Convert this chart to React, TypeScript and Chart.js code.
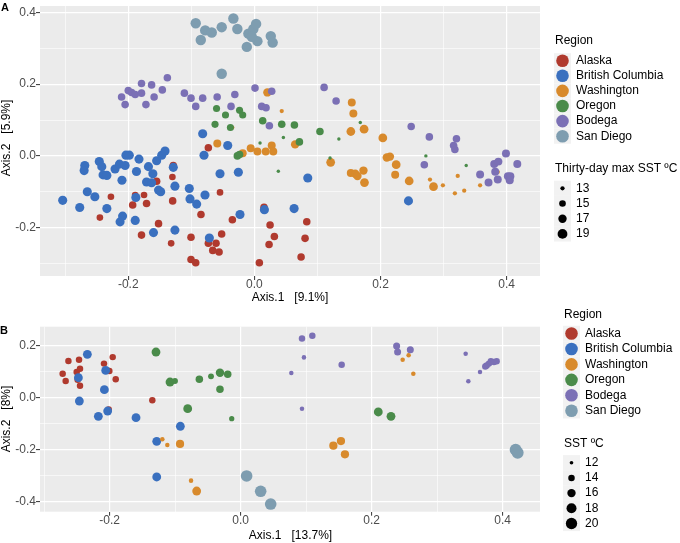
import React, { useEffect, useRef } from 'react';
import { Chart, registerables } from 'chart.js';
Chart.register(...registerables);

const FONT = '"Liberation Sans", Arial, Helvetica, sans-serif';
Chart.defaults.font.family = FONT;

const REGIONS = ['Alaska', 'British Columbia', 'Washington', 'Oregon', 'Bodega', 'San Diego'];
const REGION_COLORS = ['#B03A2E', '#3A70BF', '#D88A2C', '#4A8B4A', '#7B70B5', '#7E9DB0'];

// ---------- Panel A data: [Axis.1, Axis.2, thirty-day max SST] ----------
const A_ALASKA = [
  [-0.245, -0.172, 15], [-0.2275, -0.114, 15], [-0.193, -0.137, 16], [-0.189, -0.109, 15],
  [-0.179, -0.221, 16], [-0.175, -0.109, 15], [-0.171, -0.133, 16], [-0.155, -0.071, 16],
  [-0.152, -0.189, 16], [-0.132, -0.244, 15], [-0.13, -0.059, 15], [-0.1286, -0.027, 16],
  [-0.1296, -0.1255, 16], [-0.1005, -0.227, 16], [-0.1005, -0.289, 16], [-0.093, -0.298, 16],
  [-0.0847, -0.1636, 16], [-0.073, 0.0227, 16], [-0.073, -0.2436, 16], [-0.066, -0.2636, 16],
  [-0.0608, -0.2436, 16], [-0.056, -0.268, 16], [-0.0545, -0.1018, 15], [-0.0519, -0.218, 16],
  [-0.0349, -0.178, 16], [0.0153, -0.1436, 16], [0.0249, -0.193, 16], [0.0317, -0.225, 16],
  [0.0233, -0.247, 16], [0.0079, -0.298, 16], [0.0741, -0.2818, 16], [0.0804, -0.23, 16],
  [0.0831, -0.1836, 16],
];
const A_BRITISH_COLUMBIA = [
  [-0.304, -0.124, 18], [-0.277, -0.144, 18], [-0.269, -0.027, 18], [-0.27, -0.041, 18],
  [-0.265, -0.1, 18], [-0.253, -0.114, 18], [-0.246, -0.0155, 18], [-0.242, -0.03, 18],
  [-0.24, -0.053, 18], [-0.234, -0.0545, 18], [-0.234, -0.147, 18], [-0.221, -0.0365, 18],
  [-0.214, -0.023, 18], [-0.21, -0.068, 18], [-0.2037, 0.002, 18], [-0.1984, 0.002, 18],
  [-0.205, -0.027, 18], [-0.213, -0.184, 18], [-0.209, -0.168, 18], [-0.189, -0.18, 18],
  [-0.188, -0.116, 18], [-0.187, -0.0436, 18], [-0.183, -0.009, 18], [-0.168, -0.03, 18],
  [-0.171, -0.073, 18], [-0.163, -0.075, 18], [-0.161, -0.05, 18], [-0.155, -0.0136, 18],
  [-0.152, -0.0955, 18], [-0.1486, -0.1, 18], [-0.147, 0.0016, 18], [-0.1417, 0.0136, 18],
  [-0.16, -0.214, 18], [-0.1286, -0.032, 18], [-0.126, -0.0845, 18], [-0.126, -0.207, 18],
  [-0.1032, -0.0909, 18], [-0.1021, -0.12, 18], [-0.0915, -0.1345, 18], [-0.082, 0.0618, 18],
  [-0.0799, 0.0018, 18], [-0.0783, -0.109, 18], [-0.0714, -0.229, 18], [-0.0545, -0.05, 18],
  [-0.0423, 0.029, 18], [-0.0254, -0.0455, 18], [-0.0228, -0.1636, 18], [0.0847, -0.0618, 18],
  [0.0159, -0.15, 18], [0.063, -0.147, 18], [0.2444, -0.1255, 18],
];
const A_WASHINGTON = [
  [-0.0588, 0.0345, 16.5], [-0.035, 0.079, 13], [0.0206, 0.177, 17], [0.0434, 0.125, 13],
  [-0.0185, 0.0073, 16.5], [-0.0058, 0.021, 16.5], [0.0048, 0.012, 16.5], [0.018, 0.012, 16.5],
  [0.0275, 0.029, 16.5], [0.03, 0.012, 16.5], [0.0646, 0.032, 17], [0.121, -0.018, 17.5],
  [0.1545, 0.149, 16.5], [0.157, 0.118, 16.5], [0.153, 0.068, 17.5], [0.174, 0.0745, 17.5],
  [0.2037, 0.05, 17.5], [0.21, -0.0045, 17], [0.215, -0.002, 17], [0.2249, -0.0245, 17.5],
  [0.2233, -0.0527, 16.5], [0.1529, -0.048, 16.5], [0.16, -0.05, 17], [0.1635, -0.056, 17],
  [0.173, -0.041, 17], [0.1746, -0.0745, 17.5], [0.2455, -0.07, 17.5], [0.2841, -0.086, 17.5],
  [0.2785, -0.066, 13], [0.299, -0.082, 13], [0.318, -0.1045, 13], [0.3225, -0.056, 13],
  [0.272, -0.0245, 13], [0.3328, -0.097, 13], [0.358, -0.082, 13], [0.386, -0.045, 13],
  [0.3873, -0.065, 13],
];
const A_OREGON = [
  [-0.06, 0.132, 15.5], [-0.0458, 0.114, 15.5], [-0.0624, 0.088, 15.5], [-0.038, 0.079, 15.5],
  [-0.0235, 0.127, 15.5], [-0.0185, 0.114, 15.5], [-0.027, 0.0, 16], [-0.0235, 0.004, 16],
  [0.0132, 0.098, 16], [0.0434, 0.088, 16], [0.0635, 0.086, 16], [0.046, 0.051, 12.5],
  [0.0714, 0.039, 16], [0.009, 0.036, 12.5], [0.038, -0.043, 12.5], [0.104, 0.068, 16],
  [0.12, -0.006, 12.5], [0.134, 0.047, 12.5], [0.168, 0.093, 12.5], [0.272, 0.0, 12.5],
  [0.336, -0.027, 12.5],
];
const A_BODEGA = [
  [-0.2106, 0.164, 16], [-0.205, 0.143, 16], [-0.2, 0.182, 16], [-0.1947, 0.177, 16],
  [-0.189, 0.171, 16], [-0.179, 0.202, 16], [-0.179, 0.175, 16], [-0.172, 0.143, 16],
  [-0.163, 0.198, 16], [-0.159, 0.164, 16], [-0.146, 0.184, 16], [-0.138, 0.218, 16],
  [-0.111, 0.175, 16], [-0.1005, 0.161, 16], [-0.093, 0.138, 16], [-0.082, 0.161, 16],
  [-0.059, 0.164, 16], [-0.037, 0.138, 16], [-0.031, 0.171, 16], [0.001, 0.189, 16],
  [0.0275, 0.18, 16], [0.0116, 0.138, 16], [0.0185, 0.134, 16], [0.0238, 0.084, 16],
  [0.1106, 0.191, 16], [0.1296, 0.153, 16], [0.2487, 0.082, 16], [0.2775, 0.053, 16],
  [0.2695, -0.0245, 16], [0.316, 0.029, 16], [0.3205, 0.048, 16], [0.318, 0.018, 16],
  [0.358, -0.052, 16.5], [0.3714, -0.0745, 16.5], [0.3804, -0.0227, 16.5], [0.387, -0.016, 16.5],
  [0.382, -0.044, 16.5], [0.386, -0.066, 16.5], [0.399, 0.0064, 16.5], [0.4021, -0.057, 16.5],
  [0.406, -0.057, 16.5], [0.405, -0.068, 16.5], [0.417, -0.0227, 16.5],
];
const A_SAN_DIEGO = [
  [-0.093, 0.37, 20], [-0.085, 0.323, 20], [-0.078, 0.35, 20], [-0.0676, 0.344, 20],
  [-0.0518, 0.359, 20], [-0.0333, 0.383, 20], [-0.027, 0.354, 20], [-0.012, 0.304, 20],
  [-0.0095, 0.341, 20], [-0.0016, 0.354, 20], [0.0027, 0.368, 20], [0.0048, 0.32, 20],
  [-0.004, 0.332, 20], [0.026, 0.334, 20], [0.029, 0.316, 20], [-0.0518, 0.229, 20],
];

// ---------- Panel B data: [Axis.1, Axis.2, SST] ----------
const B_ALASKA = [
  [-0.2718, 0.0923, 14], [-0.2672, 0.064, 14], [-0.263, 0.141, 14], [-0.2504, 0.0987, 14],
  [-0.2468, 0.146, 14], [-0.2453, 0.1115, 14], [-0.2489, 0.069, 14], [-0.2453, 0.046, 14],
  [-0.2087, 0.131, 14], [-0.2005, 0.1026, 14], [-0.1954, 0.156, 14], [-0.1908, 0.0705, 14],
  [-0.1349, -0.0103, 14], [-0.2015, -0.045, 14],
];
const B_BRITISH_COLUMBIA = [
  [-0.2341, 0.1667, 16.5], [-0.2478, 0.077, 16.5], [-0.2463, -0.0128, 16.5], [-0.2061, 0.105, 16.5],
  [-0.2081, 0.0308, 16.5], [-0.2173, -0.0718, 16.5], [-0.2031, -0.0513, 16.5], [-0.1598, -0.0769, 16.5],
  [-0.1282, -0.168, 16.5], [-0.1282, -0.305, 16.5], [-0.0921, -0.11, 16.5],
];
const B_WASHINGTON = [
  [-0.1196, -0.16, 12.5], [-0.112, -0.182, 12.5], [-0.0926, -0.178, 15.8], [-0.0758, -0.319, 12.5],
  [-0.0672, -0.359, 16.5], [0.1415, -0.1846, 15.8], [0.1531, -0.1667, 15.8], [0.1592, -0.218, 15.8],
  [0.2473, 0.146, 12.5], [0.2564, 0.163, 12.5], [0.2636, 0.0923, 12.5],
];
const B_OREGON = [
  [-0.1293, 0.1756, 16.5], [-0.1079, 0.0603, 16.5], [-0.1003, 0.064, 13.5], [-0.0631, 0.0705, 15],
  [-0.0453, 0.082, 13.5], [-0.0316, 0.096, 16], [-0.0316, 0.032, 15], [-0.0198, 0.0897, 15],
  [-0.0809, -0.0423, 16.5], [-0.0137, -0.0808, 13], [0.2101, -0.055, 16.5], [0.2295, -0.0718, 16.5],
];
const B_BODEGA = [
  [0.0936, 0.228, 14], [0.1094, 0.238, 14], [0.0966, 0.155, 12.5], [0.0773, 0.095, 12.5],
  [0.0936, -0.0423, 12.5], [0.1542, 0.127, 14], [0.2381, 0.199, 14.5], [0.2396, 0.176, 14.5],
  [0.259, 0.1846, 14.5], [0.3435, 0.169, 12.5], [0.3476, 0.063, 12.5], [0.3654, 0.0987, 12.5],
  [0.3755, 0.124, 14], [0.379, 0.131, 14], [0.382, 0.14, 14], [0.3867, 0.137, 14],
  [0.3908, 0.14, 14], [0.3735, 0.12, 14],
];
const B_SAN_DIEGO = [
  [0.0091, -0.301, 20.5], [0.0305, -0.36, 20.5], [0.0458, -0.409, 20.5],
  [0.4198, -0.2, 21], [0.4229, -0.2115, 21],
];

// ---------- legends & ticks ----------
const A_SIZE_LEGEND = [13, 15, 17, 19];
const B_SIZE_LEGEND = [12, 14, 16, 18, 20];
const A_SIZE_TITLE = 'Thirty-day max SST \u00baC';
const B_SIZE_TITLE = 'SST \u00baC';

const A_X_MAJOR = [-0.2, 0, 0.2, 0.4];
const A_X_MINOR = [-0.3, -0.1, 0.1, 0.3];
const A_Y_MAJOR = [-0.2, 0, 0.2, 0.4];
const A_Y_MINOR = [-0.3, -0.1, 0.1, 0.3];
const B_X_MAJOR = [-0.2, 0, 0.2, 0.4];
const B_X_MINOR = [-0.3, -0.1, 0.1, 0.3];
const B_Y_MAJOR = [-0.4, -0.2, 0, 0.2];
const B_Y_MINOR = [-0.3, -0.1, 0.1];

const A_X_TITLE = 'Axis.1   [9.1%]';
const A_Y_TITLE = 'Axis.2   [5.9%]';
const B_X_TITLE = 'Axis.1   [13.7%]';
const B_Y_TITLE = 'Axis.2   [8%]';

const sizeA = (v: number) => 1.07 * Math.sqrt(Math.max(2.2, 4 + 2.83 * (v - 13)));
const sizeB = (v: number) => 1.07 * Math.sqrt(Math.max(2.2, 2.9 + 3.14 * (v - 12)));

const fmt = (v: number) => (Math.abs(v) < 1e-9 ? '0.0' : v.toFixed(1));

function axis(min: number, max: number, major: number[], minor: number[], isX: boolean, fitSize: number) {
  const has = (arr: number[], v: number) => arr.some((m) => Math.abs(m - v) < 1e-9);
  return {
    type: 'linear',
    min,
    max,
    afterBuildTicks: (s: any) => {
      const vals = [...major, ...minor].sort((a, b) => a - b);
      const t = vals.map((v) => ({ value: v }));
      if (!isX) t.push({ value: max });
      s.ticks = t;
    },
    afterFit: (s: any) => {
      if (isX) s.height = fitSize;
      else s.width = fitSize;
    },
    ticks: {
      autoSkip: false,
      maxRotation: 0,
      minRotation: 0,
      padding: isX ? -1 : 0,
      color: '#4D4D4D',
      font: { size: 12, lineHeight: 1 },
      callback: (v: number) => {
        if (has(major, v)) return fmt(v);
        if (has(minor, v)) return '';
        return null;
      },
    },
    grid: {
      color: (c: any) => (c.tick && (has(major, c.tick.value) || has(minor, c.tick.value)) ? '#FFFFFF' : 'rgba(0,0,0,0)'),
      lineWidth: (c: any) => (c.tick && has(major, c.tick.value) ? 1.2 : c.tick && has(minor, c.tick.value) ? 0.6 : 0),
      drawTicks: true,
      tickLength: 4,
      tickWidth: 1,
      tickColor: (c: any) => (c.tick && has(major, c.tick.value) ? '#333333' : 'rgba(0,0,0,0)'),
    },
    border: { display: false },
  };
}

function makeDatasets(sets: number[][][], sizeFn: (v: number) => number) {
  return sets.map((arr, i) => ({
    label: REGIONS[i],
    data: arr.map(([x, y, s]) => ({ x, y, s })),
    pointRadius: (c: any) => sizeFn(c.raw.s),
    pointHoverRadius: (c: any) => sizeFn(c.raw.s),
    pointBackgroundColor: REGION_COLORS[i],
    pointBorderWidth: 0,
    pointBorderColor: 'rgba(0,0,0,0)',
    showLine: false,
    order: REGIONS.length - i,
  }));
}

function panelPlugin(p: any) {
  return {
    id: 'panel' + p.letter,
    beforeDraw(chart: any) {
      const { ctx, chartArea: a } = chart;
      ctx.save();
      ctx.fillStyle = '#EBEBEB';
      ctx.fillRect(a.left, a.top, a.right - a.left, a.bottom - a.top);
      ctx.restore();
    },
    afterDraw(chart: any) {
      const { ctx } = chart;
      ctx.save();
      ctx.fillStyle = '#000';
      ctx.font = 'bold 11px ' + FONT;
      ctx.textAlign = 'left';
      ctx.textBaseline = 'alphabetic';
      ctx.fillText(p.letter, p.letterX, p.letterY);
      ctx.font = '12px ' + FONT;
      ctx.textAlign = 'center';
      ctx.textBaseline = 'middle';
      ctx.fillText(p.xTitle, p.xTitleX, p.xTitleY);
      ctx.save();
      ctx.translate(p.yTitleX, p.yTitleY);
      ctx.rotate(-Math.PI / 2);
      ctx.fillText(p.yTitle, 0, 0);
      ctx.restore();
      const L = p.legend;
      ctx.textAlign = 'left';
      ctx.fillStyle = '#000';
      ctx.fillText('Region', L.titleX, L.titleY);
      REGIONS.forEach((r, i) => {
        const y = L.y0 + i * L.step;
        ctx.fillStyle = '#F2F2F2';
        ctx.fillRect(L.keyX, y - L.step / 2, L.keyW, L.step);
        ctx.fillStyle = REGION_COLORS[i];
        ctx.beginPath();
        ctx.arc(L.cx, y, 6.3, 0, Math.PI * 2);
        ctx.fill();
        ctx.fillStyle = '#000';
        ctx.fillText(r, L.tx, y);
      });
      ctx.fillText(p.sizeTitle, L.titleX, L.sTitleY);
      p.sizes.forEach((v: number, i: number) => {
        const y = L.sy0 + i * L.sstep;
        ctx.fillStyle = '#F2F2F2';
        ctx.fillRect(L.keyX, y - L.sstep / 2, L.keyW, L.sstep);
        ctx.fillStyle = '#000';
        ctx.beginPath();
        ctx.arc(L.cx, y, p.sizeFn(v), 0, Math.PI * 2);
        ctx.fill();
        ctx.fillText(String(v), L.tx, y);
      });
      ctx.restore();
    },
  };
}

function config(opts: any) {
  return {
    type: 'scatter',
    data: { datasets: makeDatasets(opts.sets, opts.sizeFn) },
    options: {
      responsive: false,
      animation: false,
      events: [],
      layout: { padding: { left: 0, right: 140, top: opts.padTop, bottom: 0 } },
      plugins: { legend: { display: false }, tooltip: { enabled: false } },
      scales: {
        x: axis(opts.xMin, opts.xMax, opts.xMajor, opts.xMinor, true, opts.xFit),
        y: axis(opts.yMin, opts.yMax, opts.yMajor, opts.yMinor, false, 40),
      },
    },
    plugins: [panelPlugin(opts.panel)],
  };
}

export default function App() {
  const refA = useRef<HTMLCanvasElement>(null);
  const refB = useRef<HTMLCanvasElement>(null);
  useEffect(() => {
    const chartA = new Chart(refA.current as any, config({
      sets: [A_ALASKA, A_BRITISH_COLUMBIA, A_WASHINGTON, A_OREGON, A_BODEGA, A_SAN_DIEGO],
      sizeFn: sizeA,
      padTop: 0,
      xMin: -0.34, xMax: 0.453, xMajor: A_X_MAJOR, xMinor: A_X_MINOR, xFit: 29,
      yMin: -0.335, yMax: 0.418, yMajor: A_Y_MAJOR, yMinor: A_Y_MINOR,
      panel: {
        letter: 'A', letterX: 1, letterY: 10.5,
        xTitle: A_X_TITLE, xTitleX: 290, xTitleY: 298,
        yTitle: A_Y_TITLE, yTitleX: 7, yTitleY: 138,
        sizeTitle: A_SIZE_TITLE, sizes: A_SIZE_LEGEND, sizeFn: sizeA,
        legend: { titleX: 555, titleY: 41, y0: 60.7, step: 15.1, keyX: 554, keyW: 17, cx: 562.5, tx: 576,
          sTitleY: 169, sy0: 188.3, sstep: 15.2 },
      },
    }) as any);
    const chartB = new Chart(refB.current as any, config({
      sets: [B_ALASKA, B_BRITISH_COLUMBIA, B_WASHINGTON, B_OREGON, B_BODEGA, B_SAN_DIEGO],
      sizeFn: sizeB,
      padTop: 21.7,
      xMin: -0.3064, xMax: 0.457, xMajor: B_X_MAJOR, xMinor: B_X_MINOR, xFit: 31.3,
      yMin: -0.4385, yMax: 0.273, yMajor: B_Y_MAJOR, yMinor: B_Y_MINOR,
      panel: {
        letter: 'B', letterX: 0, letterY: 28.5,
        xTitle: B_X_TITLE, xTitleX: 290.5, xTitleY: 231,
        yTitle: B_Y_TITLE, yTitleX: 7, yTitleY: 114,
        sizeTitle: B_SIZE_TITLE, sizes: B_SIZE_LEGEND, sizeFn: sizeB,
        legend: { titleX: 564, titleY: 9.3, y0: 28.5, step: 15.45, keyX: 563, keyW: 17, cx: 571.5, tx: 585,
          sTitleY: 138.3, sy0: 157.7, sstep: 15.2 },
      },
    }) as any);
    return () => {
      chartA.destroy();
      chartB.destroy();
    };
  }, []);
  return (
    <div style={{ position: 'absolute', left: 0, top: 0, width: 680, height: 543, background: '#FFFFFF' }}>
      <canvas ref={refA} width={680} height={305} style={{ position: 'absolute', left: 0, top: 0 }} />
      <canvas ref={refB} width={680} height={238} style={{ position: 'absolute', left: 0, top: 305 }} />
    </div>
  );
}
